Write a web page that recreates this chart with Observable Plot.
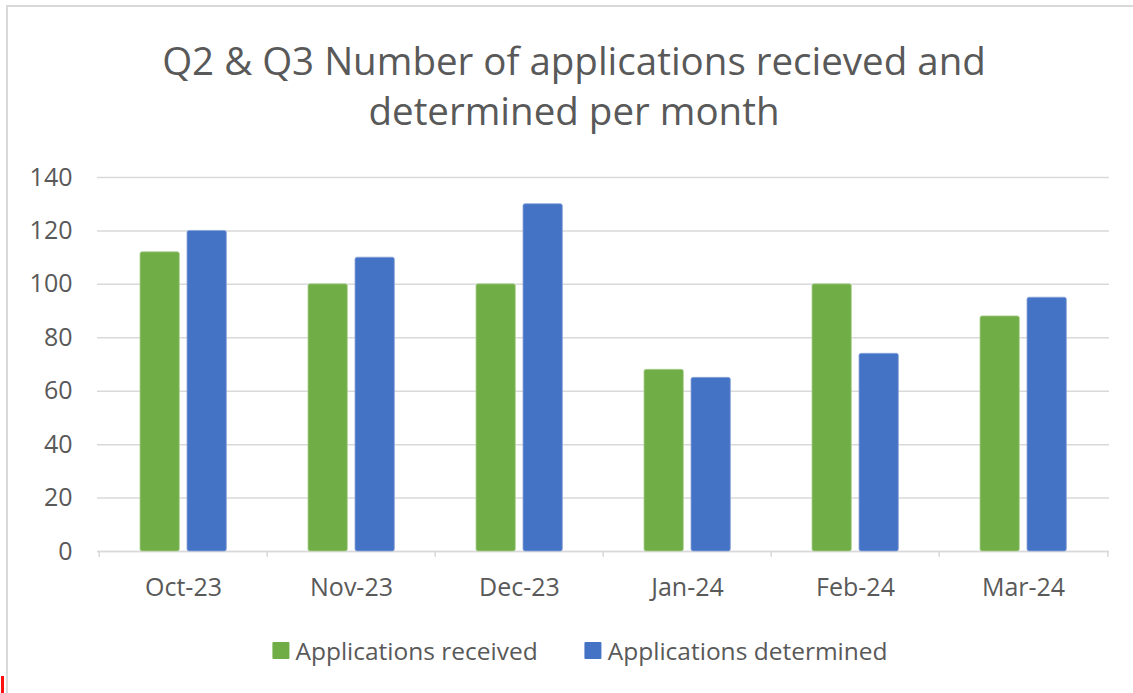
<!DOCTYPE html>
<html>
<head>
<meta charset="utf-8">
<script src="https://cdn.jsdelivr.net/npm/d3@7"></script>
<script src="https://cdn.jsdelivr.net/npm/@observablehq/plot@0.6"></script>
<style>
  html, body { margin: 0; padding: 0; background: #fff; width: 1133px; height: 693px; overflow: hidden; }
  #frame { position: absolute; left: 6px; top: 5px; width: 1200px; height: 800px; border-left: 2px solid #D9D9D9; border-top: 2px solid #D9D9D9; }
  #mark { position: absolute; left: 1px; top: 676px; width: 3px; height: 17px; background: #ff1010; }
  #title { position: absolute; left: 574px; top: 35px; transform: translateX(-50%); white-space: nowrap; text-align: center;
           font-family: "Open Sans", sans-serif; font-size: 38.5px; line-height: 50px; color: #595959; }
  #chart { position: absolute; left: 0; top: 150px; }
  #legend { position: absolute; left: 580px; top: 634px; transform: translateX(-50%); white-space: nowrap; display: flex; align-items: center;
            font-family: "Open Sans", sans-serif; font-size: 24.5px; color: #595959; }
  .item { display: flex; align-items: center; }
  .item + .item { margin-left: 47px; }
  .sw { width: 17px; height: 17px; margin-right: 6px; border-radius: 1px; }
</style>
</head>
<body>
<div id="frame"></div>
<div id="mark"></div>
<div id="title">Q2 &amp; Q3 Number of applications recieved and<br>determined per month</div>
<div id="chart"></div>
<div id="legend"></div>
<script>
const months = ["Oct-23", "Nov-23", "Dec-23", "Jan-24", "Feb-24", "Mar-24"];
const received = [112, 100, 100, 68, 100, 88];
const determined = [120, 110, 130, 65, 74, 95];
const yTicks = [0, 20, 40, 60, 80, 100, 120, 140];
const seriesNames = ["Applications received", "Applications determined"];
const seriesColors = ["#70AD47", "#4472C4"];

const table = months.map((m, i) => ({month: m, received: received[i], determined: determined[i]}));

const W = 1133, H = 470, mL = 97, mR = 24, mT = 27, mB = 69;
const bw = (W - mL - mR) / months.length;

const chart = Plot.plot({
  width: W, height: H,
  marginLeft: mL, marginRight: mR, marginTop: mT, marginBottom: mB,
  style: {fontFamily: "Open Sans, sans-serif", fontSize: "25px", color: "#595959", background: "transparent"},
  x: {type: "band", domain: months, padding: 0, label: null},
  y: {domain: [0, 140], label: null},
  marks: [
    Plot.gridY(yTicks, {stroke: "#D9D9D9", strokeOpacity: 1, strokeWidth: 1.5}),
    Plot.ruleY([0], {stroke: "#D9D9D9", strokeWidth: 1.5}),
    Plot.ruleX(months, {x: d => d, dx: -bw / 2, stroke: "#D9D9D9", strokeWidth: 1.5, insetTop: H - mT - mB, insetBottom: -6}),
    Plot.ruleX(months.slice(-1), {x: d => d, dx: bw / 2, stroke: "#D9D9D9", strokeWidth: 1.5, insetTop: H - mT - mB, insetBottom: -6}),
    Plot.barY(table, {x: "month", y: "received", fill: seriesColors[0], insetLeft: 41, insetRight: bw - 81, rx: 2, stroke: "#a9cf8f", strokeWidth: 0.8}),
    Plot.barY(table, {x: "month", y: "determined", fill: seriesColors[1], insetLeft: 88, insetRight: bw - 128, rx: 2, stroke: "#8aa6dc", strokeWidth: 0.8}),
    Plot.axisY({ticks: yTicks, tickSize: 0, tickPadding: 25, label: null, fill: "#595959"}),
    Plot.axisX({tickSize: 0, tickPadding: 27, label: null, fill: "#595959"})
  ]
});
document.getElementById("chart").appendChild(chart);

const legend = document.getElementById("legend");
seriesNames.forEach((name, i) => {
  const item = document.createElement("div");
  item.className = "item";
  const sw = document.createElement("div");
  sw.className = "sw";
  sw.style.background = seriesColors[i];
  const label = document.createElement("span");
  label.textContent = name;
  item.appendChild(sw);
  item.appendChild(label);
  legend.appendChild(item);
});
</script>
</body>
</html>
